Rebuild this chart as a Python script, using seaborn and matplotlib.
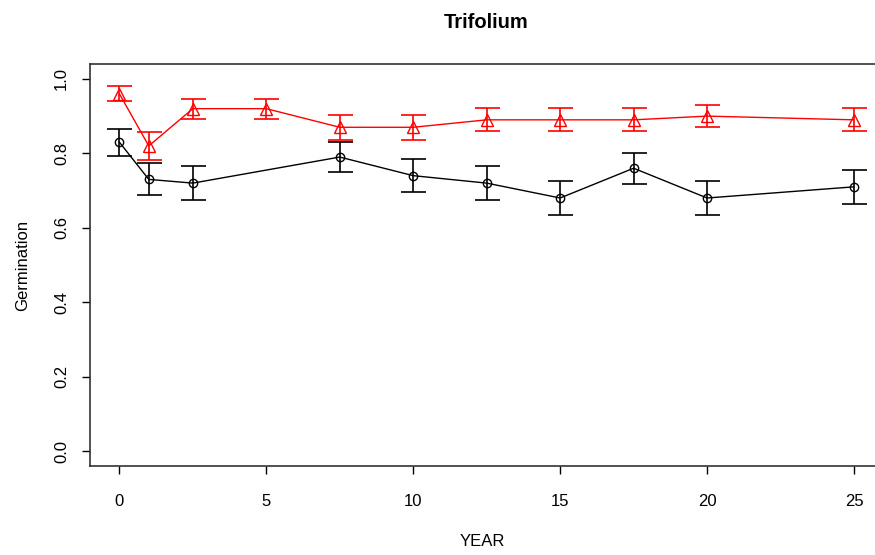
import matplotlib
matplotlib.use("Agg")
import matplotlib.pyplot as plt
import seaborn as sns
import pandas as pd

# Data
years_black = [0, 1, 2.5, 7.5, 10, 12.5, 15, 17.5, 20, 25]
germ_black = [0.83, 0.73, 0.72, 0.79, 0.74, 0.72, 0.68, 0.76, 0.68, 0.71]
err_black = [0.036, 0.043, 0.045, 0.040, 0.044, 0.045, 0.046, 0.042, 0.046, 0.045]

years_red = [0, 1, 2.5, 5, 7.5, 10, 12.5, 15, 17.5, 20, 25]
germ_red = [0.96, 0.82, 0.92, 0.92, 0.87, 0.87, 0.89, 0.89, 0.89, 0.90, 0.89]
err_red = [0.020, 0.037, 0.027, 0.027, 0.034, 0.034, 0.031, 0.031, 0.031, 0.030, 0.031]

x_ticks = [0, 5, 10, 15, 20, 25]
y_ticks = [0.0, 0.2, 0.4, 0.6, 0.8, 1.0]
y_ticklabels = ["0.0", "0.2", "0.4", "0.6", "0.8", "1.0"]

sns.set_style("white")
plt.rcParams['font.family'] = ['Liberation Sans', 'DejaVu Sans']
plt.rcParams['text.color'] = 'black'
plt.rcParams['axes.labelcolor'] = 'black'
plt.rcParams['xtick.color'] = 'black'
plt.rcParams['ytick.color'] = 'black'

fig = plt.figure(figsize=(8.75, 5.55), dpi=100)
ax = fig.add_axes([90/875, 1 - 466/555, 1 - 90/875, (466 - 64)/555])

df_b = pd.DataFrame({"YEAR": years_black, "Germination": germ_black})
df_r = pd.DataFrame({"YEAR": years_red, "Germination": germ_red})

sns.lineplot(data=df_b, x="YEAR", y="Germination", ax=ax, color="black",
             linewidth=1, marker="o", markersize=6, markerfacecolor="none",
             markeredgecolor="black", markeredgewidth=1, zorder=3)
ax.errorbar(years_black, germ_black, yerr=err_black, fmt="none",
            ecolor="black", elinewidth=1.2, capsize=9, capthick=1.2, zorder=2)

sns.lineplot(data=df_r, x="YEAR", y="Germination", ax=ax, color="#ff0000",
             linewidth=1, marker="^", markersize=8, markerfacecolor="none",
             markeredgecolor="#ff0000", markeredgewidth=1, zorder=3)
ax.errorbar(years_red, germ_red, yerr=err_red, fmt="none",
            ecolor="#ff0000", elinewidth=1.2, capsize=9, capthick=1.2, zorder=2)

ax.set_xlim(-1, (875 - 120) / 29.36)
ax.set_ylim(-0.04, 1.04)
ax.set_xticks(x_ticks)
ax.set_yticks(y_ticks)
ax.set_yticklabels(y_ticklabels, rotation=90, va="center")
ax.tick_params(axis="both", direction="out", length=6, width=1, color="black",
               labelsize=12, labelcolor="black", pad=9, left=True, bottom=True)
ax.tick_params(axis="x", pad=14)

for side in ["left", "bottom", "top"]:
    ax.spines[side].set_color("#333333")
    ax.spines[side].set_linewidth(1.2)
ax.spines["right"].set_visible(False)

ax.set_xlabel("YEAR", fontsize=12, labelpad=18, color="black")
ax.set_ylabel("Germination", fontsize=12, labelpad=17, color="black")
fig.text(486/875, 1 - 22/555, "Trifolium", fontsize=14.5, fontweight="bold",
         ha="center", va="center", color="black")

fig.savefig("out.png", dpi=100)
